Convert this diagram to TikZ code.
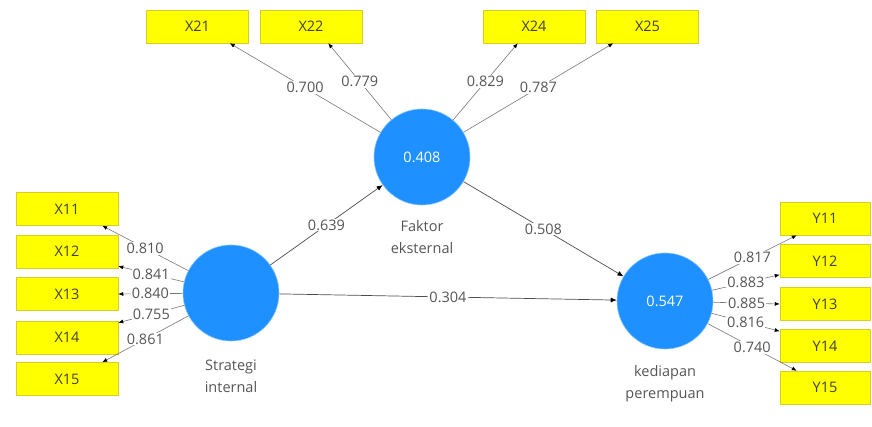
\documentclass[tikz,border=0pt]{standalone}
\usepackage{fontspec}
\setmainfont{Open Sans}
\usetikzlibrary{arrows.meta}
\definecolor{lv}{RGB}{30,144,255}
\definecolor{boxy}{RGB}{255,255,0}
\definecolor{boxedge}{RGB}{215,205,40}
\definecolor{lbl}{RGB}{85,85,85}
\definecolor{oline}{RGB}{120,120,120}
\begin{document}
\begin{tikzpicture}[x=1pt,y=-1pt,
  font=\fontsize{14.5}{17}\selectfont,
  ind/.style={draw=boxedge, line width=0.5pt, fill=boxy, minimum width=102pt, minimum height=33pt, inner sep=0pt, text=black!75},
  indr/.style={ind, minimum width=90pt},
  lat/.style={circle, fill=lv, draw=lv!55, line width=0.6pt, minimum size=96pt, inner sep=0pt, text=white},
  outer/.style={draw=oline, line width=0.6pt, -{Latex[length=5pt,width=4pt,color=black]}},
  inner/.style={draw=black!70, line width=0.7pt, -{Latex[length=6pt,width=5pt,color=black]}},
  val/.style={fill=white, inner sep=1pt, text=lbl},
  lvcap/.style={align=center, text=lbl, font=\fontsize{14.5}{22}\selectfont}
]
\useasboundingbox (0,0) rectangle (872,427);

% indicator boxes
\node[ind] (x11) at (67,209) {X11};
\node[ind] (x12) at (67,251.5) {X12};
\node[ind] (x13) at (67,294) {X13};
\node[ind] (x14) at (67,337.5) {X14};
\node[ind] (x15) at (67,379) {X15};

\node[ind] (x21) at (197.5,26.5) {X21};
\node[ind] (x22) at (311,26.5) {X22};
\node[ind] (x24) at (534,26.5) {X24};
\node[ind] (x25) at (647.5,26.5) {X25};

\node[indr] (y11) at (825,218.5) {Y11};
\node[indr] (y12) at (825,261) {Y12};
\node[indr] (y13) at (825,304) {Y13};
\node[indr] (y14) at (825,346) {Y14};
\node[indr] (y15) at (825,387.5) {Y15};

% latent variables
\node[lat] (si) at (231,293) {};
\node[lat] (fe) at (422,157) {0.408};
\node[lat] (kp) at (665,301) {0.547};

\node[lvcap] (sil) at (231,376) {Strategi\\internal};
\node[lvcap] (fel) at (422,237) {Faktor\\eksternal};
\node[lvcap] (kpl) at (665,384) {kediapan\\perempuan};

% outer model: Strategi internal
\draw[outer] (si) -- ([xshift=-16pt]x11.south east) node[val,pos=0.5] (l11) {0.810};
\draw[outer] (si) -- ([yshift=2pt]x12.south east) node[val,pos=0.5] (l12) {0.841};
\draw[outer] (si) -- (x13.east) node[val,pos=0.5] (l13) {0.840};
\draw[outer] (si) -- ([yshift=-2pt]x14.north east) node[val,pos=0.5] (l14) {0.755};
\draw[outer] (si) -- ([xshift=-16pt]x15.north east) node[val,pos=0.5] (l15) {0.861};

% outer model: Faktor eksternal
\draw[outer] (fe) -- ([xshift=-19pt]x21.south east) node[val,pos=0.5] (l21) {0.700};
\draw[outer] (fe) -- ([xshift=-34pt]x22.south east) node[val,pos=0.5] (l22) {0.779};
\draw[outer] (fe) -- ([xshift=35pt]x24.south west) node[val,pos=0.5] (l24) {0.829};
\draw[outer] (fe) -- ([xshift=17pt]x25.south west) node[val,pos=0.5] (l25) {0.787};

% outer model: kediapan perempuan
\draw[outer] (kp) -- ([xshift=17pt]y11.south west) node[val,pos=0.5] (m11) {0.817};
\draw[outer] (kp) -- ([yshift=3pt]y12.south west) node[val,pos=0.5] (m12) {0.883};
\draw[outer] (kp) -- (y13.west) node[val,pos=0.5] (m13) {0.885};
\draw[outer] (kp) -- ([yshift=-2pt]y14.north west) node[val,pos=0.5] (m14) {0.816};
\draw[outer] (kp) -- ([xshift=17pt]y15.north west) node[val,pos=0.5] (m15) {0.740};

% inner model
\draw[inner] (si) -- (fe) node[val,pos=0.5] (p1) {0.639};
\draw[inner] (fe) -- (kp) node[val,pos=0.5] (p2) {0.508};
\draw[inner] (si) -- (kp) node[val,pos=0.5] (p3) {0.304};
\end{tikzpicture}
\end{document}
